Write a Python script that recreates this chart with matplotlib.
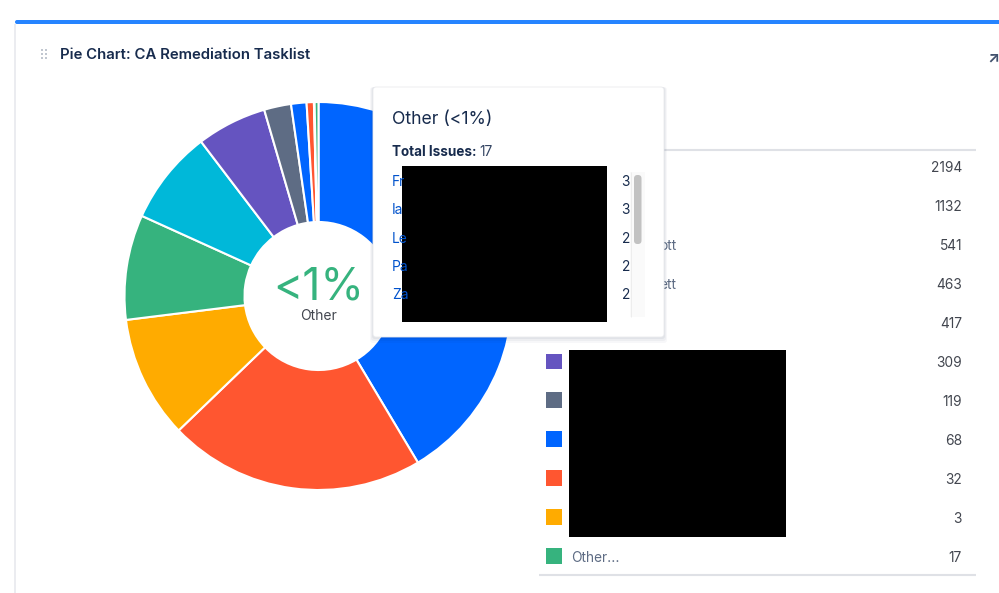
import matplotlib
matplotlib.use("Agg")
import matplotlib.pyplot as plt
from matplotlib.patches import Rectangle, FancyBboxPatch

plt.rcParams['font.family'] = ['Inter', 'DejaVu Sans']

# donnees
values = [2194, 1132, 541, 463, 417, 309, 119, 68, 32, 3, 17]
colors = ['#0065FF', '#FF5630', '#FFAB00', '#36B37E', '#00B8D9', '#6554C0',
          '#5E6C84', '#0065FF', '#FF5630', '#FFAB00', '#36B37E']
legend_names = ['', '', 'ott', 'ett', '', '', '', '', '', '', 'Other...']
popup_counts = [3, 3, 2, 2, 2]
popup_names = ['Fr', 'Ia', 'Le', 'Pa', 'Za']

W, H = 999, 593
fig = plt.figure(figsize=(W / 100, H / 100), dpi=100, facecolor='white')

def px_axes(z):
    a = fig.add_axes([0, 0, 1, 1], zorder=z)
    a.set_xlim(0, W)
    a.set_ylim(H, 0)
    a.axis('off')
    return a

# fond : carte + legende
bg = px_axes(0)
bg.add_patch(Rectangle((14, 24), 2, H - 24, color='#EBECF0', lw=0))
bg.add_patch(FancyBboxPatch((15, 20), W, 4, boxstyle='round,pad=0,rounding_size=2',
                            color='#2684FF', lw=0))
for i in range(2):
    for j in range(3):
        bg.add_patch(Rectangle((41 + i * 4, 49 + j * 4), 2.4, 2.4, color='#C1C7D0', lw=0))
bg.text(60, 55, 'Pie Chart: CA Remediation Tasklist', fontsize=10.75, fontweight='semibold',
        color='#172B4D', va='center', ha='left')
bg.text(993.5, 57.5, '↗', fontsize=11, color='#42526E', va='center', ha='center', fontweight='bold')

bg.plot([539, 976], [149.5, 149.5], color='#DFE1E6', lw=1.5, solid_capstyle='butt')
bg.plot([539, 976], [574.5, 574.5], color='#DFE1E6', lw=1.5, solid_capstyle='butt')
row_y = [167 + 38.9 * i for i in range(len(values))]
for y, v, c, name in zip(row_y, values, colors, legend_names):
    bg.add_patch(Rectangle((546, y - 8), 15.5, 15.5, color=c, lw=0))
    bg.text(962, y + 1.5, str(v), fontsize=9.9, color='#42464F', va='center', ha='right')
    if name == 'Other...':
        bg.text(571, y + 1.5, name, fontsize=9.9, color='#5E6C84', va='center', ha='left')
    elif name:
        bg.text(676, y + 1.5, name, fontsize=9.9, color='#5E6C84', va='center', ha='right')

# camembert
cx, cy, r = 318.5, 296, 194
pie_ax = fig.add_axes([(cx - r) / W, 1 - (cy + r) / H, 2 * r / W, 2 * r / H], zorder=1)
pie_ax.pie(values, colors=colors, startangle=90, counterclock=False, radius=1,
           wedgeprops={'width': 1 - 74 / r, 'edgecolor': 'white', 'linewidth': 1.5})
pie_ax.set_xlim(-1, 1)
pie_ax.set_ylim(-1, 1)

# au dessus : centre + popup + masques
top = px_axes(2)
top.text(319, 288, '<1%', fontsize=32, color='#36B37E', va='center', ha='center')
top.text(318.5, 316.5, 'Other', fontsize=10, color='#42464F', va='center', ha='center')

for off, al in [(6, 0.03), (4, 0.04), (2, 0.05)]:
    top.add_patch(FancyBboxPatch((373 - off / 2, 87), 291 + off, 250 + off,
                                 boxstyle='round,pad=0,rounding_size=3', color='#091E42',
                                 alpha=al, lw=0))
top.add_patch(FancyBboxPatch((373, 87), 291, 250, boxstyle='round,pad=0,rounding_size=3',
                             facecolor='white', edgecolor='#EAEBEE', lw=0.6))
top.text(392, 120, 'Other (<1%)', fontsize=12.7, color='#172B4D', va='center', ha='left')
top.text(392, 152, 'Total Issues:', fontsize=9.7, color='#172B4D', va='center', ha='left',
         fontweight='bold')
top.text(479, 152, '17', fontsize=9.9, color='#344563', va='center', ha='left')
pop_y = [182.5, 210.5, 239, 267, 295]
for y, n, c in zip(pop_y, popup_names, popup_counts):
    top.text(392, y, n, fontsize=9.9, color='#0052CC', va='center', ha='left')
    top.text(630, y, str(c), fontsize=9.9, color='#172B4D', va='center', ha='right')
top.add_patch(Rectangle((630, 172), 15, 145, facecolor='#FAFAFA', lw=0))
top.plot([630.5, 630.5], [172, 317], color='#EDEDED', lw=0.7, solid_capstyle='butt')
top.add_patch(FancyBboxPatch((634, 175), 7.5, 69, boxstyle='round,pad=0,rounding_size=3.5',
                             color='#C2C2C2', lw=0))
top.add_patch(Rectangle((402, 166), 205, 156, color='black', lw=0))
top.add_patch(Rectangle((569, 350), 217, 187, color='black', lw=0))

fig.savefig('out.png', dpi=100)
